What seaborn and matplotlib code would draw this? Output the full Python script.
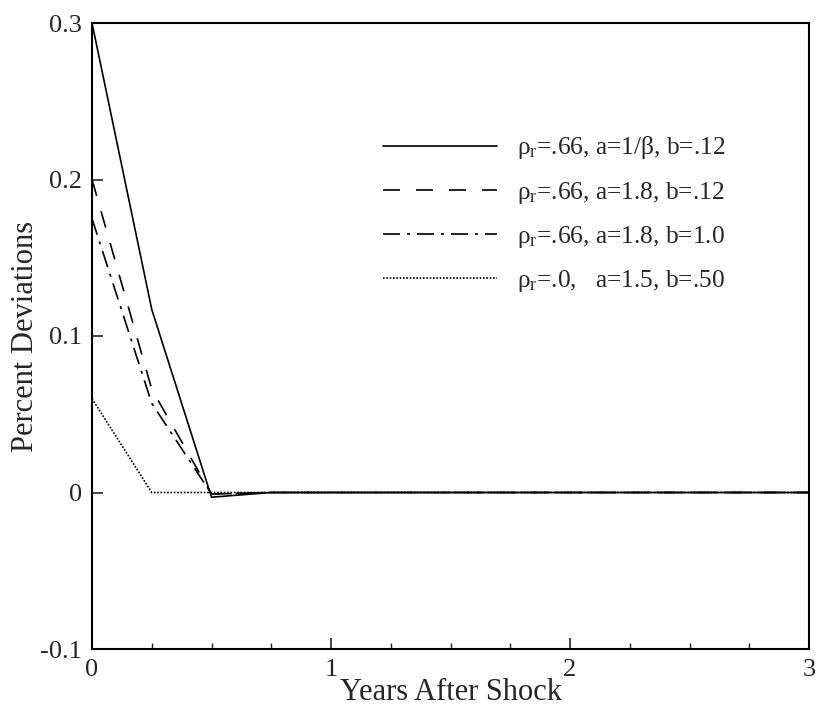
import numpy as np
import pandas as pd
import matplotlib
matplotlib.use("Agg")
import matplotlib.pyplot as plt
import seaborn as sns

years = [0.0, 0.25, 0.5, 0.75, 1.0, 1.25, 1.5, 1.75, 2.0, 2.25, 2.5, 2.75, 3.0]
s1 = [0.300, 0.117, -0.003, 0.0, 0.0, 0.0, 0.0, 0.0, 0.0, 0.0, 0.0, 0.0, 0.0]
s2 = [0.200, 0.066, -0.001, 0.0, 0.0, 0.0, 0.0, 0.0, 0.0, 0.0, 0.0, 0.0, 0.0]
s3 = [0.175, 0.057, -0.001, 0.0, 0.0, 0.0, 0.0, 0.0, 0.0, 0.0, 0.0, 0.0, 0.0]
s4 = [0.060, 0.000, 0.000, 0.0, 0.0, 0.0, 0.0, 0.0, 0.0, 0.0, 0.0, 0.0, 0.0]
labels = [r"ρ$_\mathrm{r}$=.66, a=1/β, b=.12",
          r"ρ$_\mathrm{r}$=.66, a=1.8, b=.12",
          r"ρ$_\mathrm{r}$=.66, a=1.8, b=1.0",
          r"ρ$_\mathrm{r}$=.0,   a=1.5, b=.50"]
xticks = [0, 1, 2, 3]
yticks = [-0.1, 0, 0.1, 0.2, 0.3]
yticklabels = ["-0.1", "0", "0.1", "0.2", "0.3"]

sns.set_style("white")
plt.rcParams['font.family'] = ['Liberation Serif', 'DejaVu Serif']
plt.rcParams['mathtext.fontset'] = 'custom'
plt.rcParams['mathtext.rm'] = 'Liberation Serif'
plt.rcParams['mathtext.it'] = 'Liberation Serif:italic'

df = pd.DataFrame({"x": years * 4,
                   "y": s1 + s2 + s3 + s4,
                   "series": sum([[l] * len(years) for l in labels], [])})

fig = plt.figure(figsize=(8.17, 7.06), dpi=100)
ax = fig.add_axes([92/817, 57/706, (809-92)/817, (649-23)/706])
styles = ['-', (0, (10.2, 9.6)), (0, (10.2, 4.2, 1.8, 4.2)), (0, (1, 1))]
for lab, ls in zip(labels, styles):
    sub = df[df.series == lab]
    sns.lineplot(data=sub, x="x", y="y", ax=ax, color="black", linewidth=1.2,
                 linestyle=ls, label=lab)

ax.set_xlim(0, 3)
ax.set_ylim(-0.1, 0.3)
ax.set_xticks(xticks)
ax.set_xticklabels([str(t) for t in xticks])
ax.set_xticks(np.arange(0, 3.01, 0.25), minor=True)
ax.set_yticks(yticks)
ax.set_yticklabels(yticklabels)
ax.tick_params(axis='both', which='major', direction='in', length=8, width=1.2,
               labelsize=19, pad=7, top=False, right=False, left=True, bottom=True)
ax.tick_params(axis='x', which='minor', direction='in', length=4, width=1,
               bottom=True, top=False)
for sp in ax.spines.values():
    sp.set_linewidth(1.5)
    sp.set_color("black")
ax.set_xlabel("Years After Shock", fontsize=22, labelpad=-2)
ax.set_ylabel("Percent Deviations", fontsize=22, labelpad=0)

leg = ax.legend(loc="upper left", bbox_to_anchor=(0.374, 0.8585), frameon=False,
                fontsize=18.3, handlelength=4.49, handletextpad=0.79, labelspacing=0.72)

fig.savefig("out.png", dpi=100)
